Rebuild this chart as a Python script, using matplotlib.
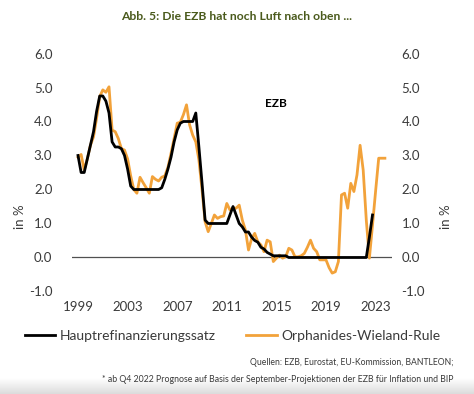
import numpy as np
import pandas as pd
import matplotlib
matplotlib.use('Agg')
import matplotlib.pyplot as plt
from matplotlib.lines import Line2D

plt.rcParams['font.family'] = ['Lato', 'DejaVu Sans']

# quarterly values, starting 1999 Q1
refi_rate = [
    3.0, 2.5, 2.5, 2.9, 3.3, 3.7, 4.3, 4.75, 4.75, 4.6,
    4.25, 3.4, 3.25, 3.25, 3.2, 3.0, 2.6, 2.1, 2.0, 2.0,
    2.0, 2.0, 2.0, 2.0, 2.0, 2.0, 2.0, 2.05, 2.3, 2.6,
    2.95, 3.4, 3.75, 3.95, 4.0, 4.0, 4.0, 4.0, 4.25, 3.25,
    2.2, 1.1, 1.0, 1.0, 1.0, 1.0, 1.0, 1.0, 1.0, 1.25,
    1.5, 1.25, 1.0, 0.9, 0.75, 0.75, 0.6, 0.5, 0.45, 0.3,
    0.25, 0.15, 0.1, 0.05, 0.05, 0.05, 0.05, 0.05, 0.0, 0.0,
    0.0, 0.0, 0.0, 0.0, 0.0, 0.0, 0.0, 0.0, 0.0, 0.0,
    0.0, 0.0, 0.0, 0.0, 0.0, 0.0, 0.0, 0.0, 0.0, 0.0,
    0.0, 0.0, 0.0, 0.0, 0.6, 1.25]

ow_rule = [
    2.95, 3.03, 2.57, 2.9, 3.3, 3.55, 4.1, 4.73, 4.93, 4.86,
    5.02, 3.75, 3.7, 3.5, 3.2, 3.16, 2.9, 2.4, 2.0, 1.89,
    2.36, 2.2, 2.05, 1.89, 2.38, 2.3, 2.25, 2.36, 2.4, 2.65,
    3.06, 3.5, 3.95, 3.98, 4.2, 4.49, 3.9, 3.6, 3.4, 2.87,
    2.0, 1.05, 0.76, 1.0, 1.25, 1.15, 1.2, 1.22, 1.59, 1.4,
    1.45, 1.45, 1.54, 1.1, 0.81, 0.22, 0.55, 0.71, 0.46, 0.37,
    0.17, 0.51, 0.46, -0.12, -0.02, 0.07, -0.02, 0.02, 0.27, 0.22,
    0.02, 0.02, 0.05, 0.12, 0.3, 0.51, 0.27, 0.17, -0.07, -0.07,
    -0.07, -0.3, -0.46, -0.42, -0.12, 1.84, 1.89, 1.45, 2.18, 1.94,
    2.43, 3.3, 2.57, 1.1, -0.02, 0.95, 1.95, 2.92, 2.92, 2.92]

year_ticks = [1999, 2003, 2007, 2011, 2015, 2019, 2023]
y_ticks = [-1.0, 0.0, 1.0, 2.0, 3.0, 4.0, 5.0, 6.0]

def quarter_pos(n):
    p = pd.period_range('1999Q1', periods=n, freq='Q')
    return p.year + (p.quarter - 1) / 4.0

x_refi = quarter_pos(len(refi_rate))
x_ow = quarter_pos(len(ow_rule))

orange = '#F2A23A'
txt = '#3a3a3a'

fig = plt.figure(figsize=(4.74, 3.94), dpi=100)

# grey shadow at the bottom of the screenshot
bg = fig.add_axes([0, 0, 1, 0.04], zorder=-5)
grad = np.linspace(0, 1, 50).reshape(-1, 1)
bg.imshow(grad, aspect='auto', cmap=matplotlib.colors.LinearSegmentedColormap.from_list('g', ['#dcdcdc', '#ffffff']), origin='lower', extent=[0, 1, 0, 1])
bg.axis('off')

ax = fig.add_axes([0.1515, 0.2602, 0.6749, 0.604])
ax.axhline(0, color='#505050', lw=0.9, zorder=1)
ax.plot(x_refi, refi_rate, color='black', lw=2.0, zorder=3)
ax.plot(x_ow, ow_rule, color=orange, lw=2.0, zorder=2)

ax.set_xlim(1998.5, 2024.3)
ax.set_ylim(-1.0, 6.0)
ax.set_xticks(year_ticks)
ax.set_xticklabels([str(y) for y in year_ticks])
ax.set_yticks(y_ticks)
ax.set_yticklabels(['%.1f' % v for v in y_ticks])
for s in ax.spines.values():
    s.set_visible(False)
ax.tick_params(axis='both', length=0, labelsize=9.5, colors=txt)
ax.tick_params(axis='y', pad=14)
ax.tick_params(axis='x', pad=7)

ax2 = ax.twinx()
ax2.set_ylim(-1.0, 6.0)
ax2.set_yticks(y_ticks)
ax2.set_yticklabels(['%.1f' % v for v in y_ticks])
for s in ax2.spines.values():
    s.set_visible(False)
ax2.tick_params(axis='y', length=0, labelsize=9.5, colors=txt, pad=7)

fig.text(0.042, 0.45, 'in %', rotation=90, ha='center', va='center', fontsize=9.5, color=txt)
fig.text(0.941, 0.45, 'in %', rotation=90, ha='center', va='center', fontsize=9.5, color=txt)
fig.text(0.582, 0.738, 'EZB', ha='center', va='center', fontsize=8.5, fontweight='bold', color='black')

fig.text(0.5, 0.958, 'Abb. 5: Die EZB hat noch Luft nach oben ...', ha='center', va='center',
         fontsize=8.7, fontweight='bold', color='#4a5a1c')

handles = [Line2D([], [], color='black', lw=2.0), Line2D([], [], color=orange, lw=2.0)]
fig.legend(handles, ['Hauptrefinanzierungssatz', 'Orphanides-Wieland-Rule'], loc='center',
           bbox_to_anchor=(0.4905, 0.147), ncol=2, frameon=False, fontsize=10,
           handlelength=2.2, handletextpad=0.3, columnspacing=2.2, labelcolor=txt)

fig.text(0.956, 0.079, 'Quellen: EZB, Eurostat, EU-Kommission, BANTLEON;', ha='right', va='center',
         fontsize=6.2, color=txt)
fig.text(0.956, 0.038, '* ab Q4 2022 Prognose auf Basis der September-Projektionen der EZB f\u00fcr Inflation und BIP',
         ha='right', va='center', fontsize=6.3, color=txt)

fig.savefig('out.png', dpi=100)
